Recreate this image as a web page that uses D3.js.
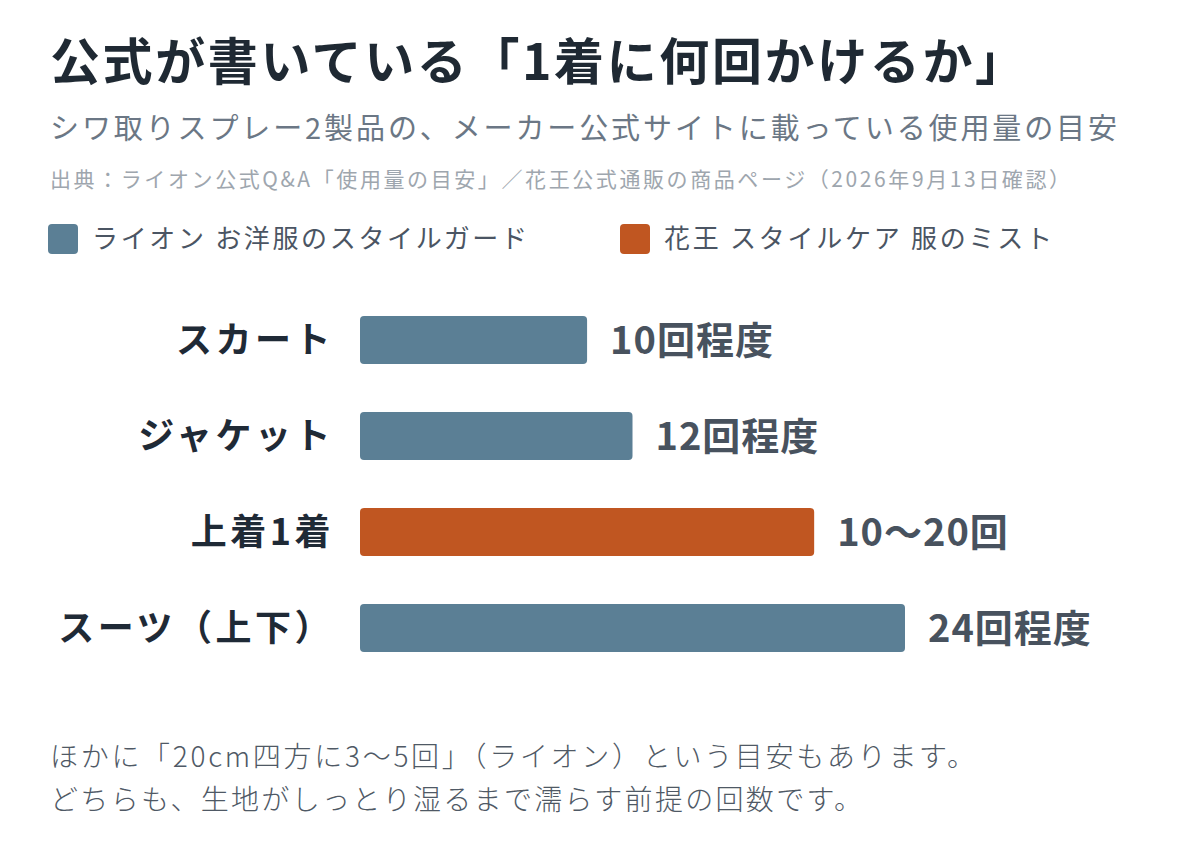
<!DOCTYPE html>
<html>
<head>
<meta charset="utf-8">
<script src="https://cdn.jsdelivr.net/npm/d3@7"></script>
<style>
  body { margin: 0; background: #ffffff; }
  svg text { font-family: "Noto Sans CJK JP", "Noto Sans", sans-serif; }
</style>
</head>
<body>
<div class="chart"></div>
<script>
// 品目ごとの使用回数（公式の目安）
var categories = ['スカート', 'ジャケット', '上着1着', 'スーツ（上下）'];
var values = [10, 12, 20, 24];
var valueLabels = ['10回程度', '12回程度', '10〜20回', '24回程度'];
var makers = ['lion', 'lion', 'kao', 'lion'];
var legendNames = ['ライオン お洋服のスタイルガード', '花王 スタイルケア 服のミスト'];
var legendKeys = ['lion', 'kao'];

document.addEventListener("DOMContentLoaded", function(){
    var width = 1200, height = 846;
    var colors = { lion: '#5b7f95', kao: '#c05621' };

    var svg = d3.select(".chart").append("svg")
        .attr('width', width)
        .attr('height', height);

    // タイトル
    svg.append('text')
        .attr('x', 50)
        .attr('y', 80)
        .attr('fill', '#1f2933')
        .style('font-size', '50px')
        .style('font-weight', 700)
        .attr('textLength', 975)
        .attr('lengthAdjust', 'spacing')
        .text('公式が書いている「1着に何回かけるか」');

    // サブタイトル
    svg.append('text')
        .attr('x', 50)
        .attr('y', 139)
        .attr('fill', '#6b7785')
        .style('font-size', '29px')
        .attr('textLength', 1067)
        .attr('lengthAdjust', 'spacing')
        .text('シワ取りスプレー2製品の、メーカー公式サイトに載っている使用量の目安');

    // 出典
    svg.append('text')
        .attr('x', 50)
        .attr('y', 187)
        .attr('fill', '#9ea6ae')
        .style('font-size', '21px')
        .attr('textLength', 1020)
        .attr('lengthAdjust', 'spacing')
        .text('出典：ライオン公式Q&A「使用量の目安」／花王公式通販の商品ページ（2026年9月13日確認）');

    // 凡例
    var legendX = [48, 620];
    var legendW = [435, 388];
    legendKeys.forEach(function(k, i){
        svg.append('rect')
            .attr('x', legendX[i])
            .attr('y', 224)
            .attr('width', 30)
            .attr('height', 30)
            .attr('rx', 4)
            .attr('fill', colors[k]);
        svg.append('text')
            .attr('x', legendX[i] + 44)
            .attr('y', 248)
            .attr('fill', '#4b5563')
            .style('font-size', '26px')
            .attr('textLength', legendW[i])
            .attr('lengthAdjust', 'spacing')
            .text(legendNames[i]);
    });

    // 横棒グラフ
    var x = d3.scaleLinear().domain([0, 24]).range([360, 905]);
    var y = d3.scaleBand().domain(categories).range([292, 676]).paddingInner(0.5).paddingOuter(0.25);

    var rows = svg.append('g').selectAll('g')
        .data(categories)
        .join('g');

    rows.append('rect')
        .attr('x', x(0))
        .attr('y', function(d){ return y(d); })
        .attr('width', function(d, i){ return x(values[i]) - x(0); })
        .attr('height', y.bandwidth())
        .attr('rx', 4)
        .attr('fill', function(d, i){ return colors[makers[i]]; });

    // 品目名
    rows.append('text')
        .attr('x', 334)
        .attr('y', function(d){ return y(d) + y.bandwidth() / 2 + 13; })
        .attr('text-anchor', 'end')
        .attr('fill', '#1f2a36')
        .style('font-size', '36px')
        .style('font-weight', 700)
        .style('letter-spacing', '3.5px')
        .text(function(d){ return d; });

    // 回数ラベル
    rows.append('text')
        .attr('x', function(d, i){ return x(values[i]) + 23; })
        .attr('y', function(d){ return y(d) + y.bandwidth() / 2 + 14; })
        .attr('fill', '#48525e')
        .style('font-size', '38px')
        .style('font-weight', 700)
        .style('letter-spacing', '1px')
        .text(function(d, i){ return valueLabels[i]; });

    // 注記
    var notes = ['ほかに「20cm四方に3〜5回」（ライオン）という目安もあります。',
                 'どちらも、生地がしっとり湿るまで濡らす前提の回数です。'];
    var noteW = [925, 812];
    svg.append('g').selectAll('text')
        .data(notes)
        .join('text')
        .attr('x', 50)
        .attr('y', function(d, i){ return 767 + i * 43; })
        .attr('fill', '#4f5965')
        .style('font-size', '28px')
        .style('font-weight', 300)
        .attr('textLength', function(d, i){ return noteW[i]; })
        .attr('lengthAdjust', 'spacing')
        .text(function(d){ return d; });
});
</script>
</body>
</html>
